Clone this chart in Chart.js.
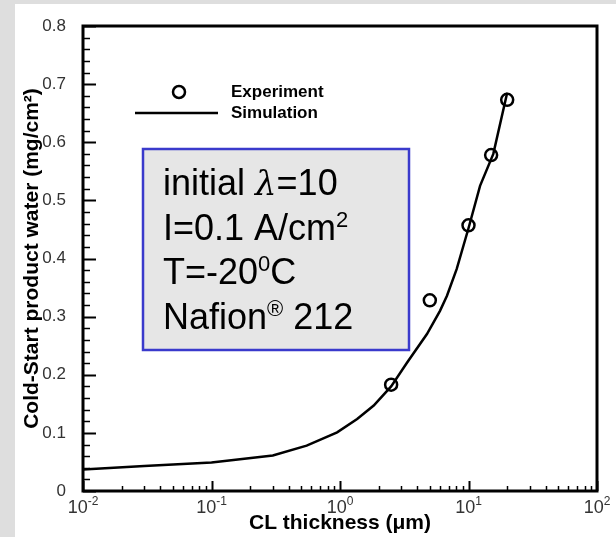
<!DOCTYPE html>
<html>
<head>
<meta charset="utf-8">
<script src="https://cdn.jsdelivr.net/npm/chart.js@4"></script>
<style>
  html, body { margin: 0; padding: 0; background: #dedede; }
  #wrap { position: absolute; left: 15px; top: 4px; width: 601px; height: 533px; background: #fff; }
</style>
</head>
<body>
<div id="wrap"><canvas id="chart"></canvas></div>
<script>
// simulation curve, CL thickness (um) vs product water (mg/cm2)
const simThickness = [0.01, 0.03, 0.1, 0.3, 0.55, 0.95, 1.36, 1.83, 2.5, 3.33, 4.75, 6.0, 6.8, 8.1, 10, 12.3, 15.6, 20];
const simWater = [0.037, 0.043, 0.049, 0.061, 0.078, 0.101, 0.124, 0.147, 0.18, 0.221, 0.27, 0.31, 0.336, 0.382, 0.452, 0.525, 0.58, 0.685];

// experiment points
const expThickness = [2.5, 5, 10, 15, 20];
const expWater = [0.183, 0.328, 0.457, 0.578, 0.673];

// x tick labels: base 10 with an exponent
const xTickValues = [0.01, 0.1, 1, 10, 100];
const xTickExponents = ['-2', '-1', '0', '1', '2'];

const FONT = '"Liberation Sans", Arial, sans-serif';

const ticksAndFrame = {
  id: 'ticksAndFrame',
  afterDatasetsDraw(chart) {
    const { ctx, chartArea: a, scales: { x, y } } = chart;
    ctx.save();
    ctx.strokeStyle = '#000';
    // y ticks, inward
    for (let i = 0; i <= 40; i++) {
      const py = Math.round(y.getPixelForValue(i * 0.02)) + 0.5;
      const len = i % 5 === 0 ? 13 : 7;
      ctx.lineWidth = i % 5 === 0 ? 2 : 1.5;
      ctx.beginPath();
      ctx.moveTo(a.left, py);
      ctx.lineTo(a.left + len, py);
      ctx.stroke();
    }
    // x ticks, inward, and the decade labels
    xTickValues.forEach((d, j) => {
      for (let k = 1; k <= 9; k++) {
        if (j === xTickValues.length - 1 && k > 1) break;
        const px = Math.round(x.getPixelForValue(d * k)) + 0.5;
        const len = k === 1 ? 10 : 5;
        ctx.lineWidth = k === 1 ? 2 : 1.5;
        ctx.beginPath();
        ctx.moveTo(px, a.bottom);
        ctx.lineTo(px, a.bottom - len);
        ctx.stroke();
      }
      const px = x.getPixelForValue(d);
      ctx.fillStyle = '#333';
      ctx.textBaseline = 'alphabetic';
      ctx.font = '18px ' + FONT;
      const wb = ctx.measureText('10').width;
      ctx.font = '12px ' + FONT;
      const we = ctx.measureText(xTickExponents[j]).width;
      const x0 = px - (wb + we) / 2;
      ctx.font = '18px ' + FONT;
      ctx.fillText('10', x0, a.bottom + 22);
      ctx.font = '12px ' + FONT;
      ctx.fillText(xTickExponents[j], x0 + wb, a.bottom + 14);
    });
    ctx.lineWidth = 3;
    ctx.strokeRect(a.left, a.top, a.right - a.left, a.bottom - a.top);
    ctx.restore();
  },
  afterDraw(chart) {
    const ctx = chart.ctx;
    ctx.save();
    // legend
    ctx.strokeStyle = '#000';
    ctx.lineWidth = 2.5;
    ctx.beginPath();
    ctx.arc(164, 88, 6, 0, Math.PI * 2);
    ctx.stroke();
    ctx.beginPath();
    ctx.moveTo(120, 109);
    ctx.lineTo(203, 109);
    ctx.stroke();
    ctx.fillStyle = '#000';
    ctx.font = 'bold 17px ' + FONT;
    ctx.textBaseline = 'middle';
    ctx.fillText('Experiment', 216, 88);
    ctx.fillText('Simulation', 216, 109);

    // condition box
    ctx.fillStyle = '#e6e6e6';
    ctx.fillRect(128, 145, 266, 201);
    ctx.strokeStyle = '#3a3acc';
    ctx.lineWidth = 2.5;
    ctx.strokeRect(128, 145, 266, 201);

    ctx.fillStyle = '#000';
    ctx.textBaseline = 'alphabetic';
    const big = '36px ' + FONT, sup = '22px ' + FONT;
    const run = (parts, x0, yb) => {
      let cx = x0;
      parts.forEach(([t, f, dy]) => {
        ctx.font = f;
        ctx.fillText(t, cx, yb - (dy || 0));
        cx += ctx.measureText(t).width;
      });
    };
    run([['initial ', big], ['λ', 'italic 34px "DejaVu Serif", serif'], ['=10', big]], 148, 191);
    run([['I=0.1 A/cm', big], ['2', sup, 13]], 148, 236);
    run([['T=-20', big], ['0', sup, 13], ['C', big]], 148, 280);
    run([['Nafion', big], ['®', sup, 13], [' 212', big]], 148, 325);
    ctx.restore();
  }
};

new Chart(document.getElementById('chart'), {
  type: 'scatter',
  data: {
    datasets: [
      {
        label: 'Experiment',
        data: expThickness.map((t, i) => ({ x: t, y: expWater[i] })),
        showLine: false,
        pointRadius: 6,
        pointBorderWidth: 2.5,
        pointBorderColor: '#000',
        pointBackgroundColor: 'rgba(0,0,0,0)'
      },
      {
        label: 'Simulation',
        data: simThickness.map((t, i) => ({ x: t, y: simWater[i] })),
        showLine: true,
        borderColor: '#000',
        borderWidth: 2.5,
        pointRadius: 0,
        tension: 0
      }
    ]
  },
  options: {
    responsive: true,
    maintainAspectRatio: false,
    animation: false,
    events: [],
    layout: { padding: { top: 22, right: 19, left: 0, bottom: 0 } },
    plugins: { legend: { display: false }, tooltip: { enabled: false } },
    scales: {
      x: {
        type: 'logarithmic',
        min: 0.01,
        max: 100,
        afterBuildTicks: (scale) => { scale.ticks = xTickValues.map(v => ({ value: v })); },
        afterFit: (scale) => { scale.height = 46; },
        grid: { display: false },
        border: { display: false },
        ticks: { display: false },
        title: {
          display: true,
          text: 'CL thickness (μm)',
          color: '#000',
          font: { family: FONT, size: 21, weight: 'bold' },
          padding: { top: 0, bottom: 1 }
        }
      },
      y: {
        min: 0,
        max: 0.8,
        afterFit: (scale) => { scale.width = 68; },
        grid: { display: false },
        border: { display: false },
        ticks: {
          stepSize: 0.1,
          padding: 9,
          color: '#333',
          font: { family: FONT, size: 17 },
          callback: (v) => v === 0 ? '0' : v.toFixed(1)
        },
        title: {
          display: true,
          text: 'Cold-Start product water (mg/cm²)',
          color: '#000',
          font: { family: FONT, size: 21, weight: 'bold' },
          padding: { top: 5, bottom: 0 }
        }
      }
    }
  },
  plugins: [ticksAndFrame]
});
</script>
</body>
</html>
